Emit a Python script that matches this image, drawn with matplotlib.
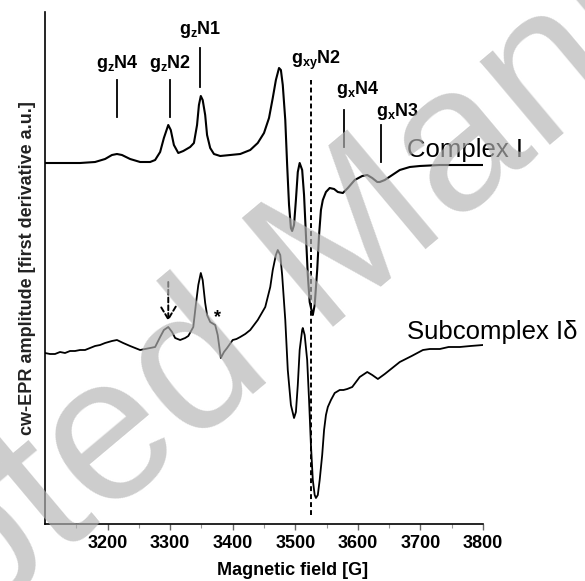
import matplotlib
matplotlib.use("Agg")
import matplotlib.pyplot as plt

plt.rcParams['font.family'] = ['Liberation Sans', 'DejaVu Sans']
plt.rcParams['mathtext.fontset'] = 'custom'
plt.rcParams['mathtext.rm'] = 'Liberation Sans'
plt.rcParams['mathtext.bf'] = 'Liberation Sans:bold'
plt.rcParams['mathtext.it'] = 'Liberation Sans:italic'

# ---------------- data ----------------
field_complex = [3100, 3124, 3156, 3180, 3196, 3207, 3215, 3223, 3236, 3252, 3268, 3276,
                 3284, 3290, 3297, 3301, 3306, 3313, 3321, 3332, 3338, 3343, 3346, 3349,
                 3352, 3356, 3359, 3364, 3370, 3380, 3396, 3412, 3428, 3440, 3450, 3458,
                 3464, 3469, 3474, 3477, 3480, 3484, 3487, 3490, 3493, 3495, 3498, 3501,
                 3504, 3507, 3511, 3514, 3517, 3520, 3523, 3527, 3528, 3531, 3535, 3538,
                 3541, 3544, 3549, 3555, 3562, 3568, 3576, 3584, 3595, 3607, 3615, 3623,
                 3631, 3635, 3643, 3655, 3667, 3683, 3699, 3731, 3763, 3800]
amp_complex = [0, 0, 0, 1, 4, 8, 9, 8, 4, 1, 1, 3,
               11, 25, 38, 33, 18, 10, 12, 16, 20, 38, 58, 67,
               63, 48, 28, 15, 9, 7, 8, 9, 13, 20, 30, 45,
               65, 83, 95, 93, 78, 43, -2, -42, -65, -68, -62, -37,
               -9, 0, -7, -32, -72, -112, -139, -150, -152, -142, -107, -72,
               -47, -37, -29, -25, -26, -29, -30, -25, -17, -13, -12, -15,
               -19, -19, -17, -12, -7, -4, -3, -2, -2, -2]

field_sub = [3100, 3108, 3116, 3124, 3132, 3140, 3148, 3156, 3164, 3172, 3180, 3188, 3196,
             3207, 3215, 3225, 3236, 3244, 3252, 3260, 3268, 3276, 3284, 3290, 3297, 3303,
             3308, 3316, 3324, 3329, 3337, 3341, 3345, 3349, 3352, 3356, 3359, 3364, 3372,
             3376, 3381, 3386, 3391, 3400, 3406, 3412, 3420, 3428, 3440, 3452, 3460, 3464,
             3469, 3472, 3476, 3479, 3484, 3488, 3493, 3498, 3501, 3504, 3507, 3511, 3512,
             3515, 3519, 3522, 3525, 3528, 3531, 3533, 3536, 3539, 3543, 3546, 3549, 3552,
             3557, 3563, 3571, 3577, 3583, 3591, 3603, 3615, 3623, 3632, 3643, 3655, 3667,
             3686, 3704, 3715, 3731, 3745, 3763, 3780, 3800]
amp_sub = [0, -1, -1, 1, 0, 2, 2, 3, 3, 5, 7, 8, 10,
           12, 13, 10, 7, 5, 3, 4, 5, 6, 16, 23, 26, 21,
           15, 13, 15, 17, 26, 48, 68, 80, 73, 50, 38, 31, 28,
           18, -5, 1, 5, 13, 14, 16, 19, 23, 33, 46, 66, 83,
           98, 103, 98, 78, 33, -17, -52, -65, -59, -32, 3, 23, 25,
           18, -7, -47, -92, -127, -142, -145, -142, -127, -102, -77, -62, -54,
           -47, -40, -37, -37, -36, -34, -24, -19, -22, -26, -21, -15, -9,
           -3, 3, 4, 4, 6, 6, 7, 8]

offset_complex = 361
offset_sub = 171

labels_text = [r'$\mathbf{g_{z}N4}$', r'$\mathbf{g_{z}N2}$', r'$\mathbf{g_{z}N1}$',
               r'$\mathbf{g_{xy}N2}$', r'$\mathbf{g_{x}N4}$', r'$\mathbf{g_{x}N3}$']
xticks = [3200, 3300, 3400, 3500, 3600, 3700, 3800]

# ---------------- figure ----------------
fig = plt.figure(figsize=(5.85, 5.81), dpi=100)
ax = fig.add_axes([45/585, 57/581, 438/585, 512/581])

ax.plot(field_complex, [a + offset_complex for a in amp_complex], color='black', lw=1.5,
        solid_joinstyle='round')
ax.plot(field_sub, [a + offset_sub for a in amp_sub], color='black', lw=1.3,
        solid_joinstyle='round')

ax.set_xlim(3100, 3800)
ax.set_ylim(0, 512)

for s in ['top', 'right']:
    ax.spines[s].set_visible(False)
for s in ['left', 'bottom']:
    ax.spines[s].set_linewidth(1.2)
ax.set_yticks([])
ax.set_xticks(xticks)
ax.set_xticks([3150, 3250, 3350, 3450, 3550, 3650, 3750], minor=True)
ax.tick_params(axis='x', which='major', length=4, width=1, color='#666666', pad=4,
               labelsize=13)
ax.tick_params(axis='x', which='minor', length=3, width=0.8, color='#999999')
for lab in ax.get_xticklabels():
    lab.set_fontweight('bold')

ax.set_xlabel('Magnetic field [G]', fontsize=13, fontweight='bold')
ax.xaxis.set_label_coords(0.566, -0.074)
ax.set_ylabel('cw-EPR amplitude [first derivative a.u.]', fontsize=13, fontweight='bold',
              color='#222222')
ax.yaxis.set_label_coords(-0.02, 0.5)

# peak markers
marker_x = [3215, 3300, 3348, 3533, 3600, 3664]
marker_ty = [461, 461, 494, 464, 434, 412]
for t, x, y in zip(labels_text, marker_x, marker_ty):
    ax.text(x, y, t, ha='center', va='center', fontsize=13)
ax.plot([3215, 3215], [407, 444], color='black', lw=1.3)
ax.plot([3300, 3300], [407, 444], color='black', lw=1.3)
ax.plot([3348, 3348], [437, 476], color='black', lw=1.3)
ax.plot([3578, 3578], [377, 414], color='black', lw=1.3)
ax.plot([3637, 3637], [362, 399], color='black', lw=1.3)
ax.plot([3525, 3525], [9, 444], color='black', lw=1.4, linestyle=(0, (2.5, 1.6)))

ax.text(3678, 374, 'Complex I', fontsize=18.5, ha='left', va='center', clip_on=False)
ax.text(3678, 192, 'Subcomplex I\u03b4', fontsize=18.5, ha='left', va='center', clip_on=False)

ax.annotate('', xy=(3297, 203), xytext=(3297, 242),
            arrowprops=dict(arrowstyle='->,head_length=0.5,head_width=0.3', lw=1.4,
                            linestyle=(0, (2.5, 1.5)), mutation_scale=18, color='black',
                            shrinkA=0, shrinkB=0))
ax.text(3376, 206, '*', fontsize=13, ha='center', va='center', fontweight='bold')

# watermark
fig.text(0.55, 0.54, 'Accepted Manuscript', fontsize=148, color='#b4b4b4', alpha=0.67,
         rotation=40, ha='center', va='center', rotation_mode='anchor', zorder=20)

fig.savefig('out.png', dpi=100)
